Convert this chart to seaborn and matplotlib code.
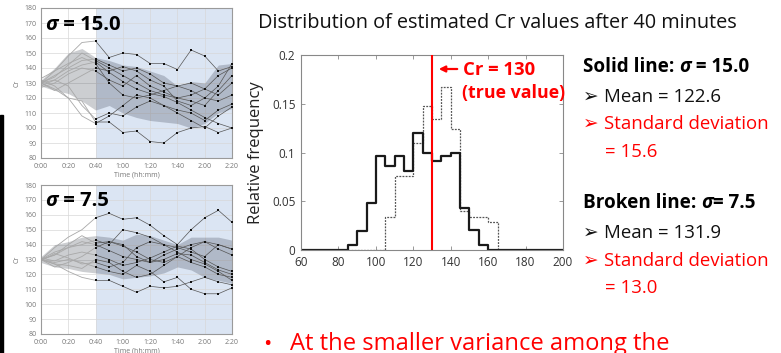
import numpy as np
import pandas as pd
import matplotlib
matplotlib.use("Agg")
import matplotlib.pyplot as plt
from matplotlib.patches import Rectangle
import seaborn as sns

# ---------------- data ----------------
# histogram (relative frequency per 5-wide bin, 60..200)
bin_left = list(range(60, 200, 5))
solid_freq = [0, 0, 0, 0, 0, 0.005, 0.02, 0.048, 0.096, 0.086, 0.096, 0.081, 0.12, 0.10,
              0.091, 0.096, 0.10, 0.043, 0.02, 0.005, 0, 0, 0, 0, 0, 0, 0, 0]
broken_freq = [0, 0, 0, 0, 0, 0, 0, 0, 0, 0.034, 0.076, 0.076, 0.11, 0.148,
               0.134, 0.167, 0.124, 0.040, 0.034, 0.034, 0.029, 0, 0, 0, 0, 0, 0, 0]
true_cr = 130
x_ticks = [60, 80, 100, 120, 140, 160, 180, 200]
y_ticks = [0, 0.05, 0.1, 0.15, 0.2]
y_tick_labels = ["0", "0.05", "0.1", "0.15", "0.2"]

# time series panels (minutes, every 10 min)
times = [0, 10, 20, 30, 40, 50, 60, 70, 80, 90, 100, 110, 120, 130, 140]
time_labels = ["0:00", "0:20", "0:40", "1:00", "1:20", "1:40", "2:00", "2:20"]

s15_band_lo = [128, 125, 123, 118, 112, 115, 110, 107, 105, 104, 103, 100, 103, 110, 113]
s15_band_hi = [132, 140, 150, 153, 147, 145, 142, 141, 138, 135, 128, 131, 130, 142, 143]
s15_traj = [
    [130, 138, 148, 157, 158, 147, 150, 149, 143, 143, 139, 152, 148, 138, 141],
    [130, 135, 140, 145, 146, 142, 138, 140, 136, 130, 128, 125, 120, 118, 122],
    [128, 132, 138, 142, 144, 137, 131, 126, 123, 121, 117, 112, 107, 103, 100],
    [130, 126, 120, 118, 104, 104, 97, 98, 91, 90, 97, 100, 101, 97, 100],
    [132, 128, 120, 108, 103, 108, 115, 122, 120, 115, 110, 105, 100, 108, 114],
    [130, 134, 142, 150, 145, 140, 135, 130, 125, 122, 120, 118, 115, 125, 135],
    [127, 130, 136, 140, 138, 132, 128, 135, 128, 124, 120, 122, 126, 135, 140],
    [130, 132, 128, 115, 106, 110, 108, 114, 118, 115, 112, 110, 105, 112, 116],
    [133, 138, 143, 147, 143, 130, 122, 120, 122, 125, 128, 130, 126, 122, 130],
    [130, 125, 130, 135, 140, 138, 141, 138, 132, 128, 118, 115, 120, 128, 143],
]

s75_band_lo = [128, 125, 124, 122, 121, 120, 117, 118, 119, 121, 125, 123, 118, 116, 114]
s75_band_hi = [132, 140, 142, 145, 146, 145, 143, 147, 146, 143, 140, 145, 145, 145, 143]
s75_traj = [
    [130, 138, 145, 150, 158, 161, 157, 158, 153, 146, 140, 150, 158, 163, 155],
    [130, 127, 122, 118, 116, 116, 112, 108, 112, 111, 112, 115, 118, 115, 113],
    [130, 133, 138, 140, 143, 140, 150, 148, 145, 140, 138, 135, 132, 140, 137],
    [130, 128, 130, 128, 125, 122, 120, 126, 122, 115, 118, 110, 107, 107, 111],
    [130, 135, 138, 142, 140, 136, 132, 130, 128, 133, 137, 140, 142, 140, 137],
    [131, 129, 133, 135, 133, 130, 126, 128, 131, 135, 139, 137, 130, 125, 122],
    [129, 134, 131, 127, 128, 125, 128, 138, 142, 140, 135, 130, 127, 122, 116],
    [130, 125, 128, 132, 138, 142, 139, 135, 130, 128, 132, 138, 142, 137, 133],
    [130, 127, 126, 124, 130, 128, 122, 118, 120, 126, 132, 128, 125, 120, 118],
    [130, 133, 140, 146, 141, 142, 140, 132, 128, 130, 134, 133, 128, 123, 120],
]

# ---------------- figure ----------------
sns.set_theme(style="white")
FONTS = ["Open Sans", "DejaVu Sans"]
plt.rcParams["font.family"] = FONTS

W, H = 781, 353
fig = plt.figure(figsize=(W / 100, H / 100), dpi=100)
fig.patch.set_facecolor("white")


def ax_px(l, t, r, b):
    return fig.add_axes([l / W, 1 - b / H, (r - l) / W, (b - t) / H])


def runs(x, y, parts, size, color="black"):
    rend = fig.canvas.get_renderer()
    for txt, kw in parts:
        kk = dict(color=color)
        kk.update(kw)
        t = fig.text(x / W, 1 - y / H, txt, fontsize=size, va="baseline", ha="left", **kk)
        x += t.get_window_extent(renderer=rend).width
    return x


def panel(box, band_lo, band_hi, trajs, label, label_y):
    ax = ax_px(*box)
    ax.set_facecolor("white")
    ax.axvspan(40, 140, color="#dbe5f3", zorder=0, lw=0)
    ax.fill_between(times, band_lo, band_hi, color="#1a2030", alpha=0.22, lw=0, zorder=1)
    rows_l, rows_r = [], []
    for i, tr in enumerate(trajs):
        for t, v in zip(times, tr):
            if t <= 40:
                rows_l.append((i, t, v))
            if t >= 40:
                rows_r.append((i, t, v))
    dl = pd.DataFrame(rows_l, columns=["traj", "t", "cr"])
    dr = pd.DataFrame(rows_r, columns=["traj", "t", "cr"])
    sns.lineplot(data=dl, x="t", y="cr", units="traj", estimator=None, color="#a8a8a8",
                 lw=0.6, ax=ax, zorder=2, legend=False)
    sns.lineplot(data=dr, x="t", y="cr", units="traj", estimator=None, color="#555555",
                 lw=0.5, ax=ax, zorder=3, legend=False)
    sns.scatterplot(data=dr, x="t", y="cr", marker="s", s=4, color="#111111",
                    linewidth=0, ax=ax, zorder=4, legend=False)
    ax.set_xlim(0, 140)
    ax.set_ylim(80, 180)
    ax.set_xticks(range(0, 141, 20))
    ax.set_xticklabels(time_labels)
    ax.set_yticks(range(80, 181, 10))
    ax.tick_params(axis="both", labelsize=5, colors="#777777", length=0)
    ax.tick_params(axis="x", pad=3.5)
    ax.tick_params(axis="y", pad=3)
    ax.grid(True, color="#d8d8d8", lw=0.5, zorder=0.5)
    ax.set_axisbelow(True)
    for s in ax.spines.values():
        s.set_color("#9a9a9a")
        s.set_linewidth(0.8)
    ax.set_xlabel("Time (hh:mm)", fontsize=5, color="#777777", labelpad=1)
    ax.set_ylabel("Cr", fontsize=5, color="#777777", labelpad=3)
    runs(45, label_y, [("σ", dict(fontweight="bold", fontstyle="italic")),
                       (" = " + label, dict(fontweight="bold"))], 14.6)
    return ax


panel((41, 8, 232, 158), s15_band_lo, s15_band_hi, s15_traj, "15.0", 30)
panel((41, 185, 232, 334), s75_band_lo, s75_band_hi, s75_traj, "7.5", 206)

# black slide edge at the far left
fig.patches.append(Rectangle((0, 0), 3 / W, (353 - 115) / H, transform=fig.transFigure,
                             color="black", zorder=10))

# ---------------- histogram ----------------
ax = ax_px(301, 55, 563, 250)
centers = [b + 2.5 for b in bin_left]
edges = bin_left + [200]
sns.histplot(x=centers, weights=broken_freq, bins=edges, element="step", fill=False,
             color="#555555", linewidth=0.9, linestyle=(0, (1.5, 1)), ax=ax)
sns.histplot(x=centers, weights=solid_freq, bins=edges, element="step", fill=False,
             color="#1a1a1a", linewidth=1.6, ax=ax)
ax.axvline(true_cr, color="#ff0000", lw=1.5, zorder=5)
ax.set_xlim(60, 200)
ax.set_ylim(0, 0.2)
ax.set_xticks(x_ticks)
ax.set_yticks(y_ticks)
ax.set_yticklabels(y_tick_labels)
ax.tick_params(direction="in", length=3, width=0.6, colors="#888888", labelcolor="#333333",
               labelsize=8.5, top=True, right=True, bottom=True, left=True, pad=4)
for s in ax.spines.values():
    s.set_color("#888888")
    s.set_linewidth(0.8)
ax.set_ylabel("Relative frequency", fontsize=12, color="#222222", labelpad=6)
ax.set_xlabel("")

fig.add_artist(matplotlib.patches.FancyArrowPatch(
    (460 / W, 1 - 69 / H), (436 / W, 1 - 69 / H), transform=fig.transFigure,
    arrowstyle="-|>", mutation_scale=9, color="#ff0000", lw=1.6))
runs(463, 75, [("Cr = 130", dict(fontweight="bold"))], 13.3, color="#ff0000")
runs(462, 98, [("(true value)", dict(fontweight="bold"))], 12.8, color="#ff0000")

# ---------------- slide texts ----------------
fig.text(258 / W, 1 - 28 / H, "Distribution of estimated Cr values after 40 minutes",
         fontsize=14.3, color="#111111", va="baseline", ha="left")

BS, RS = 13.6, 13.4
runs(583, 72, [("Solid line: ", dict(fontweight="bold")),
               ("σ", dict(fontweight="bold", fontstyle="italic")),
               (" = 15.0", dict(fontweight="bold"))], BS)
runs(583, 102, [("➢ ", {}), ("Mean = 122.6", {})], RS, color="#111111")
runs(583, 129, [("➢ ", {}), ("Standard deviation", {})], RS, color="#ff0000")
runs(605, 157, [("= 15.6", {})], RS, color="#ff0000")

runs(583, 208, [("Broken line: ", dict(fontweight="bold")),
                ("σ", dict(fontweight="bold", fontstyle="italic")),
                ("= 7.5", dict(fontweight="bold"))], BS)
runs(583, 238, [("➢ ", {}), ("Mean = 131.9", {})], RS, color="#111111")
runs(583, 266, [("➢ ", {}), ("Standard deviation", {})], RS, color="#ff0000")
runs(605, 293, [("= 13.0", {})], RS, color="#ff0000")

fig.text(263 / W, 1 - 350 / H, "•", fontsize=16, color="#ff0000", va="baseline")
fig.text(290 / W, 1 - 350 / H, "At the smaller variance among the", fontsize=17.1,
         color="#ff0000", va="baseline")

fig.savefig("out.png", dpi=100, facecolor="white")
